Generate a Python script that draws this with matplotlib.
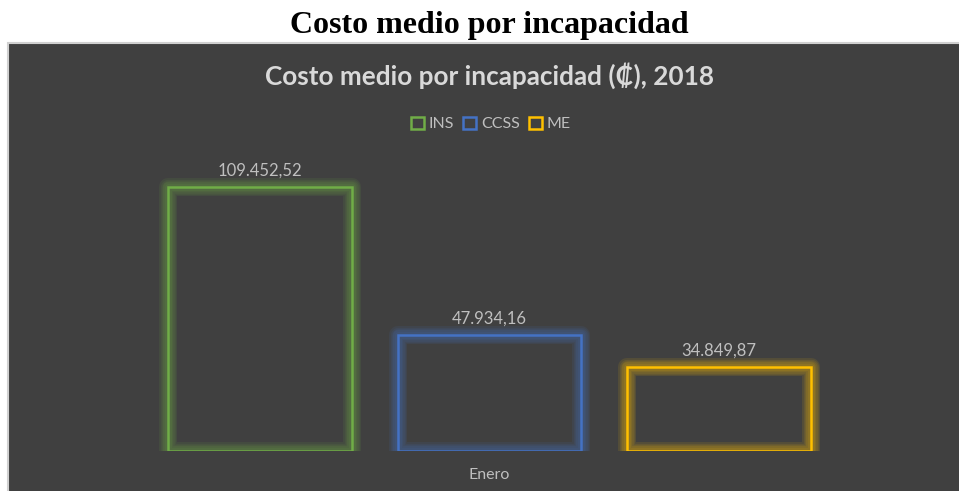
import matplotlib.pyplot as plt
from matplotlib.patches import Rectangle, Patch

# data
categorias = ["INS", "CCSS", "ME"]
costos = [109452.52, 47934.16, 34849.87]
colores = ["#70AD47", "#4472C4", "#FFC000"]
mes = "Enero"

W, H = 959, 491
fondo = "#404040"
texto = "#BFBFBF"
fuente = ["Lato", "DejaVu Sans"]
cx = 489.5 / W


def fmt_es(v):
    s = "{:,.2f}".format(v)
    return s.replace(",", "X").replace(".", ",").replace("X", ".")


fig = plt.figure(figsize=(W / 100, H / 100), dpi=100)
fig.patch.set_facecolor("white")

# dark chart panel
fig.patches.append(Rectangle((8 / W, -0.1), 1.2, (H - 43) / H + 0.1,
                             transform=fig.transFigure, facecolor=fondo,
                             edgecolor="#D0D0D0", linewidth=1.5, zorder=-5))

fig.text(cx, 1 - 25 / H, "Costo medio por incapacidad", ha="center", va="center",
         fontsize=23, fontweight="bold", family="Liberation Serif", color="black")
fig.text(cx, 1 - 76 / H, "Costo medio por incapacidad (\u20a1), 2018", ha="center",
         va="center", fontsize=18.8, fontweight="bold", family=fuente, color="#D9D9D9")

# axes placed so bar baseline sits at y=451px
ax = fig.add_axes([30 / W, 40 / H, 919 / W, 301 / H])
ax.set_facecolor("none")
ax.set_xlim(-1, 3)
ax.set_ylim(0, 301 / 0.002412)
for s in ax.spines.values():
    s.set_visible(False)
ax.set_yticks([])
ax.set_xticks([])

x = list(range(len(categorias)))

# glow
for lw in [13, 11, 9, 7, 5]:
    ax.bar(x, costos, width=0.8, facecolor="none", edgecolor=colores,
           linewidth=lw, alpha=0.1, joinstyle="round")

barras = ax.bar(x, costos, width=0.8, facecolor="none", edgecolor=colores,
                linewidth=1.8)
ax.bar_label(barras, labels=[fmt_es(v) for v in costos], padding=6,
             fontsize=12, color=texto, family=fuente)

fig.text(cx, 1 - 475 / H, mes, ha="center", va="center", fontsize=11.5,
         color=texto, family=fuente)

handles = [Patch(facecolor="none", edgecolor=c, linewidth=1.8, label=n)
           for n, c in zip(categorias, colores)]
leg = fig.legend(handles=handles, loc="center", bbox_to_anchor=(491 / W, 1 - 124 / H),
                 ncol=3, frameon=False, handlelength=0.8, handleheight=0.8,
                 handletextpad=0.3, columnspacing=0.6,
                 prop={"family": fuente, "size": 11.5})
for t in leg.get_texts():
    t.set_color(texto)

fig.savefig("out.png", dpi=100, facecolor=fig.get_facecolor())
